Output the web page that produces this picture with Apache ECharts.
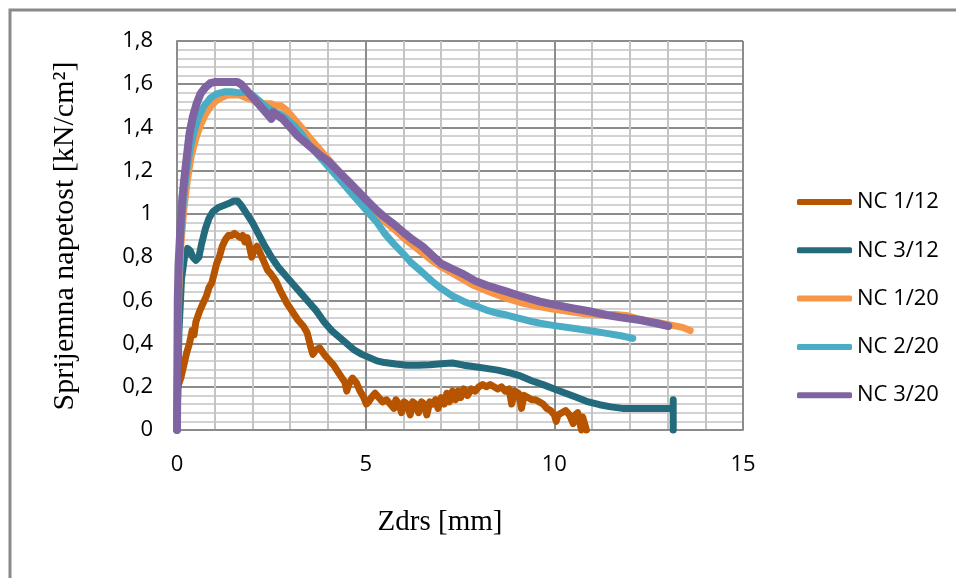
<!DOCTYPE html>
<html>
<head>
<meta charset="utf-8">
<script src="https://cdn.jsdelivr.net/npm/echarts@6/dist/echarts.min.js"></script>
<style>
html,body{margin:0;padding:0;background:#fff;}
#chart{width:956px;height:578px;}
</style>
</head>
<body>
<div id="chart"></div>
<script>
// ---- data ----
var seriesNames = ['NC 1/12', 'NC 3/12', 'NC 1/20', 'NC 2/20', 'NC 3/20'];
var xTicks = [0, 5, 10, 15];
var yTicks = [0, 0.2, 0.4, 0.6, 0.8, 1, 1.2, 1.4, 1.6, 1.8];

var nc1_12 = [[0,0],[0.02,0.2],[0.1,0.24],[0.18,0.3],[0.26,0.36],[0.33,0.4],[0.4,0.46],[0.45,0.44],[0.5,0.5],[0.6,0.55],[0.7,0.59],[0.78,0.62],[0.85,0.66],[0.92,0.68],[0.98,0.72],[1.05,0.77],[1.12,0.8],[1.2,0.85],[1.28,0.88],[1.36,0.9],[1.45,0.9],[1.52,0.91],[1.6,0.9],[1.68,0.89],[1.74,0.9],[1.8,0.87],[1.86,0.89],[1.92,0.85],[1.98,0.8],[2.04,0.83],[2.12,0.85],[2.2,0.82],[2.3,0.78],[2.4,0.74],[2.5,0.72],[2.62,0.69],[2.75,0.64],[2.9,0.59],[3.05,0.55],[3.2,0.51],[3.35,0.48],[3.45,0.45],[3.55,0.38],[3.6,0.35],[3.68,0.37],[3.78,0.38],[3.9,0.35],[4.0,0.33],[4.15,0.3],[4.3,0.26],[4.45,0.22],[4.5,0.18],[4.55,0.21],[4.65,0.24],[4.75,0.22],[4.85,0.18],[4.95,0.15],[5.02,0.12],[5.08,0.13],[5.15,0.15],[5.25,0.17],[5.35,0.15],[5.45,0.13],[5.55,0.14],[5.65,0.12],[5.75,0.1],[5.8,0.14],[5.88,0.12],[5.95,0.08],[6.02,0.13],[6.1,0.12],[6.18,0.07],[6.25,0.13],[6.32,0.12],[6.4,0.08],[6.48,0.13],[6.55,0.12],[6.62,0.07],[6.7,0.13],[6.78,0.12],[6.85,0.14],[6.92,0.1],[7.0,0.15],[7.08,0.12],[7.15,0.17],[7.22,0.13],[7.3,0.18],[7.38,0.14],[7.45,0.18],[7.52,0.15],[7.6,0.19],[7.7,0.16],[7.8,0.19],[7.9,0.18],[8.0,0.2],[8.1,0.21],[8.2,0.2],[8.3,0.21],[8.4,0.2],[8.5,0.19],[8.6,0.2],[8.7,0.18],[8.8,0.19],[8.87,0.12],[8.95,0.18],[9.05,0.17],[9.13,0.1],[9.2,0.16],[9.3,0.15],[9.4,0.14],[9.5,0.14],[9.6,0.13],[9.7,0.12],[9.8,0.1],[9.9,0.09],[10.0,0.07],[10.05,0.04],[10.1,0.07],[10.2,0.08],[10.3,0.09],[10.4,0.07],[10.5,0.03],[10.55,0.07],[10.62,0.08],[10.68,0.03],[10.72,0.0],[10.75,0.06],[10.8,0.06],[10.85,0]];

var nc3_12 = [[0,0],[0.05,0.45],[0.12,0.7],[0.2,0.8],[0.28,0.84],[0.35,0.83],[0.42,0.8],[0.5,0.785],[0.58,0.8],[0.65,0.86],[0.75,0.93],[0.85,0.98],[0.95,1.01],[1.1,1.03],[1.25,1.04],[1.4,1.05],[1.5,1.06],[1.6,1.06],[1.7,1.04],[1.85,1.0],[2.0,0.96],[2.15,0.91],[2.3,0.86],[2.5,0.8],[2.7,0.75],[2.9,0.71],[3.1,0.67],[3.3,0.63],[3.5,0.59],[3.7,0.55],[3.9,0.5],[4.1,0.46],[4.3,0.43],[4.5,0.4],[4.7,0.37],[4.9,0.35],[5.1,0.335],[5.3,0.32],[5.5,0.312],[5.8,0.305],[6.1,0.3],[6.4,0.3],[6.7,0.302],[7.0,0.307],[7.3,0.31],[7.6,0.3],[7.9,0.293],[8.2,0.285],[8.5,0.277],[8.8,0.265],[9.1,0.25],[9.4,0.228],[9.7,0.21],[10.0,0.19],[10.3,0.17],[10.6,0.15],[10.9,0.13],[11.2,0.117],[11.5,0.107],[11.8,0.1],[12.1,0.1],[12.4,0.1],[12.7,0.1],[13.0,0.1],[13.15,0.1],[13.15,0.14],[13.15,0.0]];

var nc1_20 = [[0,0],[0.02,0.4],[0.05,0.65],[0.1,0.85],[0.18,1.02],[0.27,1.15],[0.38,1.27],[0.5,1.35],[0.62,1.41],[0.75,1.46],[0.9,1.5],[1.05,1.525],[1.2,1.54],[1.35,1.55],[1.5,1.55],[1.65,1.55],[1.8,1.54],[1.95,1.53],[2.1,1.52],[2.3,1.51],[2.5,1.51],[2.6,1.5],[2.75,1.5],[2.9,1.48],[3.1,1.44],[3.3,1.4],[3.5,1.355],[3.7,1.315],[3.9,1.275],[4.1,1.235],[4.3,1.195],[4.5,1.155],[4.7,1.12],[4.9,1.08],[5.1,1.04],[5.3,1.0],[5.5,0.965],[5.75,0.93],[6.0,0.89],[6.25,0.855],[6.5,0.82],[6.75,0.785],[7.0,0.755],[7.3,0.725],[7.6,0.695],[7.85,0.67],[8.2,0.645],[8.5,0.625],[8.8,0.605],[9.1,0.59],[9.4,0.578],[9.7,0.568],[10.0,0.558],[10.4,0.548],[10.8,0.538],[11.2,0.532],[11.6,0.535],[11.9,0.53],[12.2,0.515],[12.5,0.505],[12.8,0.495],[13.1,0.485],[13.4,0.475],[13.6,0.46]];

var nc2_20 = [[0,0],[0.02,0.5],[0.05,0.72],[0.1,0.9],[0.17,1.06],[0.25,1.19],[0.35,1.3],[0.45,1.38],[0.58,1.45],[0.72,1.5],[0.88,1.535],[1.05,1.555],[1.25,1.565],[1.45,1.565],[1.65,1.56],[1.85,1.565],[2.0,1.55],[2.2,1.52],[2.4,1.49],[2.6,1.47],[2.75,1.46],[2.9,1.44],[3.1,1.41],[3.3,1.37],[3.5,1.32],[3.7,1.28],[3.9,1.24],[4.1,1.2],[4.3,1.16],[4.5,1.12],[4.7,1.08],[4.9,1.04],[5.1,1.0],[5.3,0.96],[5.5,0.91],[5.75,0.86],[6.0,0.815],[6.2,0.775],[6.5,0.73],[6.75,0.69],[7.0,0.655],[7.3,0.62],[7.6,0.595],[7.85,0.578],[8.2,0.555],[8.5,0.54],[8.74,0.532],[9.1,0.515],[9.4,0.502],[9.62,0.494],[10.0,0.483],[10.5,0.471],[11.0,0.458],[11.39,0.447],[11.8,0.435],[12.08,0.424]];

var nc3_20 = [[0,0],[0.01,0.3],[0.02,0.6],[0.04,0.76],[0.08,0.9],[0.13,1.05],[0.18,1.14],[0.25,1.25],[0.33,1.37],[0.42,1.45],[0.52,1.51],[0.62,1.555],[0.75,1.585],[0.88,1.605],[1.0,1.61],[1.2,1.61],[1.4,1.61],[1.6,1.61],[1.7,1.6],[1.85,1.57],[2.0,1.54],[2.15,1.51],[2.3,1.48],[2.45,1.45],[2.5,1.44],[2.55,1.47],[2.62,1.46],[2.8,1.44],[3.0,1.4],[3.2,1.36],[3.4,1.33],[3.6,1.3],[3.8,1.27],[4.0,1.245],[4.2,1.21],[4.4,1.175],[4.6,1.14],[4.85,1.095],[5.1,1.05],[5.3,1.015],[5.5,0.985],[5.75,0.952],[6.0,0.915],[6.25,0.88],[6.5,0.85],[6.75,0.81],[7.0,0.77],[7.3,0.745],[7.6,0.72],[7.9,0.69],[8.2,0.67],[8.5,0.653],[8.74,0.64],[9.1,0.62],[9.4,0.605],[9.62,0.594],[10.0,0.58],[10.5,0.563],[11.0,0.547],[11.39,0.532],[11.8,0.52],[12.27,0.509],[12.7,0.494],[13.02,0.481]];

var colors = ['#B65400', '#236B7C', '#F79646', '#4BACC6', '#8064A2'];
var lineWidths = [7, 7, 7, 7, 8];
var allData = [nc1_12, nc3_12, nc1_20, nc2_20, nc3_20];

var chart = echarts.init(document.getElementById('chart'), null, {renderer: 'canvas'});

var series = seriesNames.map(function (name, i) {
  return {
    name: name,
    type: 'line',
    data: allData[i],
    symbol: 'none',
    showSymbol: false,
    smooth: false,
    clip: false,
    lineStyle: {color: colors[i], width: lineWidths[i], join: 'round', cap: 'round'},
    itemStyle: {color: colors[i]},
    z: 3 + i
  };
});

var option = {
  animation: false,
  backgroundColor: '#ffffff',
  grid: {left: 177, top: 41, right: 213, bottom: 148, containLabel: false},
  xAxis: {
    type: 'value',
    min: xTicks[0], max: xTicks[xTicks.length - 1], interval: 5,
    axisLine: {show: true, lineStyle: {color: '#8c8c8c', width: 2}},
    axisTick: {show: false},
    axisLabel: {margin: 24, color: '#000', fontFamily: 'Open Sans', fontSize: 22},
    splitLine: {show: true, lineStyle: {color: '#8c8c8c', width: 2}},
    minorTick: {show: false, splitNumber: 5},
    minorSplitLine: {show: true, lineStyle: {color: '#c4c4c4', width: 2}}
  },
  yAxis: {
    type: 'value',
    min: yTicks[0], max: yTicks[yTicks.length - 1], interval: 0.2,
    axisLine: {show: true, lineStyle: {color: '#8c8c8c', width: 2}},
    axisTick: {show: false},
    axisLabel: {
      margin: 24, color: '#000', fontFamily: 'Open Sans', fontSize: 22,
      formatter: function (v) { return String(Math.round(v * 10) / 10).replace('.', ','); }
    },
    splitLine: {show: true, lineStyle: {color: '#8c8c8c', width: 2}},
    minorTick: {show: false, splitNumber: 5},
    minorSplitLine: {show: true, lineStyle: {color: '#c4c4c4', width: 1.5}}
  },
  legend: {
    orient: 'vertical',
    left: 797, top: 190,
    padding: 0,
    itemWidth: 55, itemHeight: 6,
    itemGap: 24.3,
    icon: 'roundRect',
    textStyle: {color: '#000', fontFamily: 'Open Sans', fontSize: 22, lineHeight: 24},
    data: seriesNames
  },
  graphic: [
    {type: 'rect', shape: {x: 10, y: 10, width: 1000, height: 1000}, style: {fill: 'none', stroke: '#8a8a8a', lineWidth: 3}, silent: true, z: 0},
    {type: 'text', x: 440, y: 522, style: {text: 'Zdrs [mm]', font: '29px "Liberation Serif"', fill: '#000', textAlign: 'center', textVerticalAlign: 'middle'}},
    {type: 'text', x: 65, y: 236, rotation: Math.PI / 2, style: {text: 'Sprijemna napetost [kN/cm\u00B2]', font: '30px "Liberation Serif"', fill: '#000', textAlign: 'center', textVerticalAlign: 'middle'}}
  ],
  series: series
};
chart.setOption(option);
</script>
</body>
</html>
